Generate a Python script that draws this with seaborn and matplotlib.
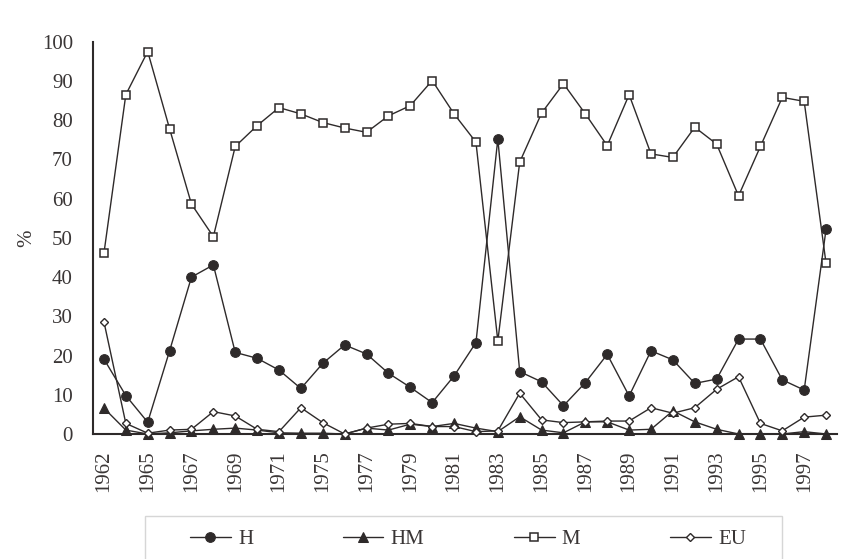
import matplotlib
matplotlib.use("Agg")
import matplotlib.pyplot as plt
from matplotlib.patches import Rectangle
import seaborn as sns
import pandas as pd
import numpy as np

years = [1962, 1964, 1965, 1966, 1967, 1968, 1969, 1970, 1971, 1974,
         1975, 1976, 1977, 1978, 1979, 1980, 1981, 1982, 1983, 1984,
         1985, 1986, 1987, 1988, 1989, 1990, 1991, 1992, 1993, 1994,
         1995, 1996, 1997, 1998]

h_vals = [19.1, 9.8, 3.0, 21.2, 40.0, 43.1, 20.8, 19.3, 16.3, 11.6,
          18.0, 22.7, 20.4, 15.5, 11.9, 8.0, 14.8, 23.3, 75.2, 15.9,
          13.3, 7.2, 13.1, 20.3, 9.7, 21.2, 18.9, 12.9, 14.0, 24.2,
          24.2, 13.8, 11.2, 52.2]

hm_vals = [6.6, 1.0, 0.0, 0.3, 0.8, 1.2, 1.5, 1.0, 0.3, 0.2,
           0.2, 0.0, 1.5, 1.0, 2.5, 1.9, 2.7, 1.5, 0.6, 4.4,
           1.0, 0.3, 3.1, 3.1, 1.0, 1.2, 5.9, 3.1, 1.2, 0.0,
           0.0, 0.0, 0.6, 0.0]

m_vals = [46.1, 86.5, 97.5, 77.8, 58.6, 50.3, 73.3, 78.6, 83.2, 81.6,
          79.4, 78.0, 76.9, 81.1, 83.7, 90.1, 81.6, 74.4, 23.7, 69.3,
          81.8, 89.3, 81.6, 73.5, 86.5, 71.4, 70.5, 78.2, 73.9, 60.7,
          73.3, 85.8, 84.8, 43.5]

eu_vals = [28.6, 2.7, 0.2, 1.0, 1.2, 5.7, 4.6, 1.2, 0.6, 6.7,
           2.9, 0.0, 1.5, 2.5, 2.7, 1.9, 1.9, 0.6, 0.8, 10.4,
           3.6, 2.9, 3.1, 3.3, 3.3, 6.7, 5.3, 6.7, 11.4, 14.6,
           2.7, 0.8, 4.3, 4.8]

series_names = ["H", "HM", "M", "EU"]
y_ticks = [0, 10, 20, 30, 40, 50, 60, 70, 80, 90, 100]

ink = "#2e2a2a"
text_col = "#3a3636"
fs = 15

sns.set_theme(style="white")
plt.rcParams["font.family"] = ["Liberation Serif", "DejaVu Serif"]
plt.rcParams["font.size"] = fs

idx = np.arange(len(years))
df = pd.DataFrame({"pos": idx, "H": h_vals, "HM": hm_vals, "M": m_vals, "EU": eu_vals})

fig = plt.figure(figsize=(8.48, 5.59), dpi=100)
fig.patch.set_facecolor("white")
ax = fig.add_axes([93 / 848, 1 - 434 / 559, (837 - 93) / 848, (434 - 41.7) / 559])
ax.set_facecolor("white")

styles = {
    "H":  dict(marker="o", markersize=7, markerfacecolor=ink, markeredgecolor=ink),
    "HM": dict(marker="^", markersize=7, markerfacecolor=ink, markeredgecolor=ink),
    "M":  dict(marker="s", markersize=6, markerfacecolor="white", markeredgecolor=ink,
               markeredgewidth=1.1),
    "EU": dict(marker="D", markersize=3.6, markerfacecolor="white", markeredgecolor=ink,
               markeredgewidth=1.0),
}

for name in series_names:
    sns.lineplot(data=df, x="pos", y=name, ax=ax, color=ink, linewidth=1.0,
                 label=name, clip_on=False, zorder=3, **styles[name])

ax.set_xlim(-0.5, len(years) - 0.5)
ax.set_ylim(0, 100)
ax.set_yticks(y_ticks)
ax.set_yticklabels([str(v) for v in y_ticks], color=text_col, fontsize=fs)

# labels at every other category, tick marks on category boundaries
ax.set_xticks(idx[::2])
ax.set_xticklabels([str(y) for y in years[::2]], rotation=90, color=text_col, fontsize=fs)
ax.set_xticks(np.arange(-0.5, len(years) + 0.5, 1.0), minor=True)
ax.tick_params(axis="x", which="major", length=0, pad=12)
ax.tick_params(axis="x", which="minor", length=7, width=1.5, color=ink, direction="out")
ax.tick_params(axis="y", which="major", length=6.5, width=1.5, color=ink, direction="out", pad=8)

for side in ["top", "right"]:
    ax.spines[side].set_visible(False)
for side in ["left", "bottom"]:
    ax.spines[side].set_color(ink)
    ax.spines[side].set_linewidth(1.5)

ax.set_xlabel("")
ax.set_ylabel("%", color=text_col, fontsize=fs, labelpad=4)
ax.grid(False)

handles, labels = ax.get_legend_handles_labels()
ax.get_legend().remove()
fig.legend(handles, labels, loc="center left", ncol=4, frameon=False,
           bbox_to_anchor=((190 - 8.3) / 848, 1 - 539 / 559), borderaxespad=0,
           handlelength=1.95, handletextpad=0.35, columnspacing=4.3,
           fontsize=fs, labelcolor=text_col)
fig.patches.append(Rectangle((145 / 848, -0.01), (782 - 145) / 848, (559 - 516) / 559 + 0.01,
                             transform=fig.transFigure, fill=False,
                             edgecolor="#d6d6d6", linewidth=1.0))

fig.savefig("out.png", dpi=100)
